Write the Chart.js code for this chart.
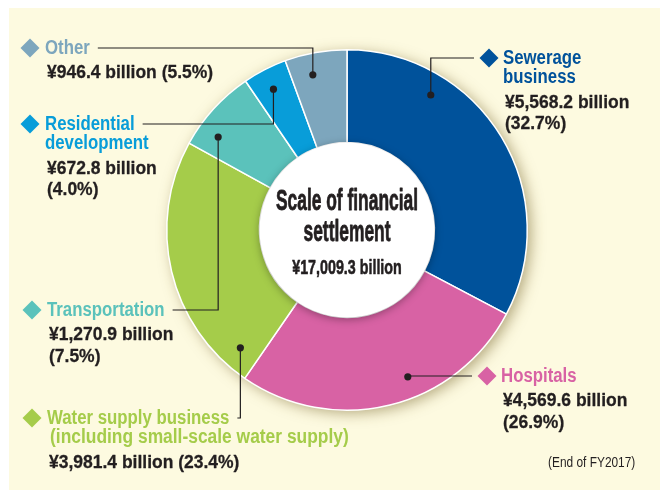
<!DOCTYPE html>
<html>
<head>
<meta charset="utf-8">
<script src="https://cdn.jsdelivr.net/npm/chart.js@4"></script>
<style>
	html, body { margin: 0; padding: 0; background: #fff; }
	#wrap { width: 660px; height: 490px; }
</style>
</head>
<body>
<div id="wrap"><canvas id="settlement-canvas" width="660" height="490"></canvas></div>
<script>
// Scale of financial settlement by business, ¥ billion
const categories = ["Sewerage business", "Hospitals", "Water supply business", "Transportation", "Residential development", "Other"];
const titleLines = [
	["Sewerage", "business"],
	["Hospitals"],
	["Water supply business", "(including small-scale water supply)"],
	["Transportation"],
	["Residential", "development"],
	["Other"],
];
const amounts = [5568.2, 4569.6, 3981.4, 1270.9, 672.8, 946.4];
const shares = [32.7, 26.9, 23.4, 7.5, 4.0, 5.5];
const colors = ["#00529b", "#d862a4", "#a5cc4a", "#5bc2bb", "#089dd9", "#7da6bd"];
const centerTitle = ["Scale of financial", "settlement"];
const footnote = "(End of FY2017)";

const INK = "#231f20";
const CREAM = "#fdfae0";
const FONT = "'Liberation Sans', Arial, sans-serif";

const yen = (v) => "¥" + v.toLocaleString("en-US", { minimumFractionDigits: 1, maximumFractionDigits: 1 }) + " billion";
const total = amounts.reduce((a, b) => a + b, 0);

// where each callout sits; "at" is how far along its slice the leader dot goes
const callouts = [
	{ side: "right", x: 503, y: 58, split: true, at: 0.27 },
	{ side: "right", x: 501, y: 376, split: true, at: 0.41 },
	{ side: "left", x: 47, y: 418, split: false, at: 0.09 },
	{ side: "left", x: 47, y: 310, split: true, at: 0.26 },
	{ side: "left", x: 45, y: 124, split: true, at: 0.47 },
	{ side: "left", x: 45, y: 48, split: false, at: 0.38 },
];

function squeezeText(ctx, str, x, y, font, sx, color, align, heavy) {
	ctx.save();
	ctx.font = font;
	const w = ctx.measureText(str).width * sx;
	let left = x;
	if (align === "center") left = x - w / 2;
	ctx.fillStyle = color;
	ctx.textBaseline = "middle";
	ctx.translate(left, y);
	ctx.scale(sx, 1);
	ctx.fillText(str, 0, 0);
	if (heavy) {
		ctx.strokeStyle = color;
		ctx.lineWidth = heavy;
		ctx.lineJoin = "round";
		ctx.strokeText(str, 0, 0);
	}
	ctx.restore();
	return w;
}

function diamond(ctx, cx, cy, r, color) {
	ctx.beginPath();
	ctx.moveTo(cx, cy - r);
	ctx.lineTo(cx + r, cy);
	ctx.lineTo(cx, cy + r);
	ctx.lineTo(cx - r, cy);
	ctx.closePath();
	ctx.fillStyle = color;
	ctx.fill();
}

const panelPlugin = {
	id: "panel",
	beforeDraw(chart) {
		const ctx = chart.ctx;
		ctx.save();
		ctx.fillStyle = CREAM;
		ctx.fillRect(9, 8, chart.width - 9, chart.height - 8);
		ctx.restore();
	},
	beforeDatasetsDraw(chart) {
		// soft drop shadow under the ring
		const arc = chart.getDatasetMeta(0).data[0];
		const ctx = chart.ctx;
		ctx.save();
		ctx.shadowColor = "rgba(110, 90, 30, 0.5)";
		ctx.shadowBlur = 14;
		ctx.shadowOffsetX = 4;
		ctx.shadowOffsetY = 3;
		ctx.beginPath();
		ctx.arc(arc.x, arc.y, arc.outerRadius, 0, Math.PI * 2);
		ctx.fillStyle = CREAM;
		ctx.fill();
		ctx.restore();
	},
	afterDatasetsDraw(chart) {
		const ctx = chart.ctx;
		const arcs = chart.getDatasetMeta(0).data;
		const cx = arcs[0].x;
		const cy = arcs[0].y;
		const rIn = arcs[0].innerRadius;
		const rOut = arcs[0].outerRadius;

		// white centre disc
		ctx.save();
		ctx.shadowColor = "rgba(0, 0, 0, 0.35)";
		ctx.shadowBlur = 8;
		ctx.shadowOffsetY = 2;
		ctx.beginPath();
		ctx.arc(cx, cy, rIn, 0, Math.PI * 2);
		ctx.fillStyle = "#fff";
		ctx.fill();
		ctx.restore();

		const bigFont = "bold 29px " + FONT;
		squeezeText(ctx, centerTitle[0], cx, cy - 28, bigFont, 0.6, INK, "center", 0.8);
		squeezeText(ctx, centerTitle[1], cx, cy + 3, bigFont, 0.6, INK, "center", 0.8);
		squeezeText(ctx, yen(total), cx, cy + 38, "bold 21px " + FONT, 0.68, INK, "center", 0.6);

		// callouts
		const titleFont = "bold 20px " + FONT;
		const valueFont = "bold 19px " + FONT;
		callouts.forEach((c, i) => {
			const a = arcs[i];
			const ang = a.startAngle + (a.endAngle - a.startAngle) * c.at;
			const rDot = rIn + (rOut - rIn) * 0.77;
			const dx = cx + Math.cos(ang) * rDot;
			const dy = cy + Math.sin(ang) * rDot;

			let y = c.y;
			let firstW = 0;
			titleLines[i].forEach((t, k) => {
				const sub = k > 0 && i === 2;
				const w = squeezeText(ctx, t, c.x + (sub ? 3 : 0), y, titleFont, sub ? 0.87 : 0.84, colors[i]);
				if (k === 0) firstW = w;
				if (k < titleLines[i].length - 1) y += 19.5;
			});
			y += 25;
			const amt = yen(amounts[i]);
			const pct = "(" + shares[i].toFixed(1) + "%)";
			if (c.split) {
				squeezeText(ctx, amt, c.x + 2, y, valueFont, 0.92, INK, "left", 0.3);
				squeezeText(ctx, pct, c.x + 2, y + 21.5, valueFont, 0.92, INK, "left", 0.3);
			} else {
				squeezeText(ctx, amt + " " + pct, c.x + 2, y, valueFont, 0.92, INK, "left", 0.3);
			}

			const dmx = c.x - (c.side === "left" ? 15 : 14);
			diamond(ctx, dmx, c.y, 9.5, colors[i]);

			// leader: dot, then up/down to the title line, then across
			const endX = c.side === "left" ? c.x + firstW + 8 : dmx - 15;
			ctx.save();
			ctx.strokeStyle = INK;
			ctx.lineWidth = 1.2;
			ctx.beginPath();
			ctx.moveTo(dx, dy);
			ctx.lineTo(dx, c.y);
			ctx.lineTo(endX, c.y);
			ctx.stroke();
			ctx.beginPath();
			ctx.arc(dx, dy, 3.6, 0, Math.PI * 2);
			ctx.fillStyle = INK;
			ctx.fill();
			ctx.restore();
		});

		squeezeText(ctx, footnote, 548, 463, "14px " + FONT, 0.85, INK);
	},
};

new Chart(document.getElementById("settlement-canvas").getContext("2d"), {
	type: "doughnut",

	data: {
		labels: categories,
		datasets: [
			{
				data: amounts,
				backgroundColor: colors,
				borderColor: "#fff",
				borderWidth: 1.5,
			},
		],
	},

	options: {
		responsive: false,
		animation: false,
		cutout: "48.5%",
		layout: {
			padding: { left: 166, right: 132, top: 49, bottom: 79 },
		},
		plugins: {
			legend: { display: false },
			tooltip: { enabled: false },
		},
	},

	plugins: [panelPlugin],
});
</script>
</body>
</html>
